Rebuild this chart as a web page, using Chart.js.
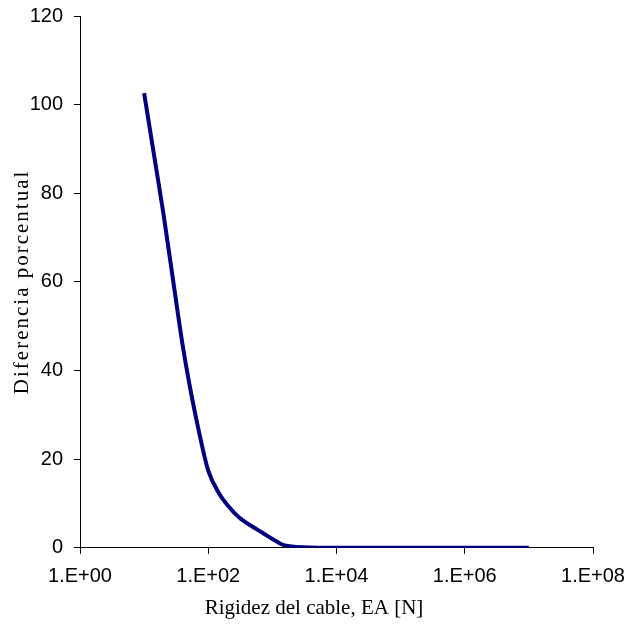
<!DOCTYPE html>
<html>
<head>
<meta charset="utf-8">
<script src="https://cdn.jsdelivr.net/npm/chart.js@4"></script>
<style>
    html, body { margin: 0; padding: 0; background: #fff; }
    #wrap { width: 628px; height: 625px; }
</style>
</head>
<body>
<div id="wrap"><canvas id="cableChart"></canvas></div>
<script>
// Rigidez del cable EA [N] (eje logarítmico)
const eaValues = [10, 15, 20, 30, 40, 50, 70, 100, 150, 200, 300, 500, 700, 1000, 1500, 2000, 3000, 5000, 1e4, 1e5, 1e6, 1e7];
// Diferencia porcentual
const diffValues = [102.6, 86.7, 75.4, 57.8, 45.6, 37.5, 26.9, 17.4, 12.1, 9.6, 6.9, 4.7, 3.4, 2.0, 0.6, 0.3, 0.1, 0, 0, 0, 0, 0];
// Marcas del eje x (décadas pares)
const xTickValues = [1, 1e2, 1e4, 1e6, 1e8];

const points = eaValues.map((v, i) => ({ x: v, y: diffValues[i] }));

function sciLabel(v) {
    const exp = Math.round(Math.log10(v));
    return '1.E+' + String(exp).padStart(2, '0');
}

const tickFont = { family: 'Liberation Sans', size: 20 };

const ctx = document.getElementById('cableChart').getContext('2d');
new Chart(ctx, {
    type: 'line',
    data: {
        datasets: [{
            data: points,
            borderColor: '#000080',
            borderWidth: 4,
            pointRadius: 0,
            fill: false,
            cubicInterpolationMode: 'monotone'
        }]
    },
    options: {
        responsive: true,
        maintainAspectRatio: false,
        animation: false,
        layout: {
            padding: { top: 16, right: 0, bottom: 0, left: 0 }
        },
        plugins: {
            legend: { display: false },
            tooltip: { enabled: false },
            title: {
                display: true,
                position: 'bottom',
                text: 'Rigidez del cable, EA [N]',
                color: '#000',
                font: { family: 'Liberation Serif', size: 21, weight: 'normal' },
                padding: { top: 0, bottom: 4 }
            }
        },
        scales: {
            x: {
                type: 'logarithmic',
                min: 1,
                max: 1e8,
                afterBuildTicks: function(scale) {
                    scale.ticks = xTickValues.map(v => ({ value: v }));
                },
                afterFit: function(scale) {
                    scale.height = 48;
                    scale.paddingLeft = 0;
                    scale.paddingRight = 35;
                },
                ticks: {
                    color: '#000',
                    font: tickFont,
                    padding: 11,
                    maxRotation: 0,
                    autoSkip: false,
                    callback: function(value) {
                        return sciLabel(value);
                    }
                },
                grid: {
                    drawOnChartArea: false,
                    drawTicks: true,
                    tickLength: 6,
                    color: '#000'
                },
                border: { display: true, color: '#000', width: 1 }
            },
            y: {
                min: 0,
                max: 120,
                afterFit: function(scale) {
                    scale.width = 80;
                    scale.paddingTop = 0;
                    scale.paddingBottom = 0;
                },
                afterUpdate: function(scale) {
                    // el título vertical del original está más espaciado
                    if (!scale._spacedTitle) {
                        const drawTitle = scale.drawTitle;
                        scale.drawTitle = function() {
                            this.ctx.save();
                            this.ctx.letterSpacing = '2px';
                            drawTitle.apply(this, arguments);
                            this.ctx.restore();
                        };
                        scale._spacedTitle = true;
                    }
                },
                ticks: {
                    stepSize: 20,
                    color: '#000',
                    font: tickFont,
                    padding: 11
                },
                grid: {
                    drawOnChartArea: false,
                    drawTicks: true,
                    tickLength: 6,
                    color: '#000'
                },
                border: { display: true, color: '#000', width: 1 },
                title: {
                    display: true,
                    text: 'Diferencia porcentual',
                    color: '#000',
                    font: { family: 'Liberation Serif', size: 21 },
                    padding: { top: 10, bottom: 0 }
                }
            }
        }
    }
});
</script>
</body>
</html>
